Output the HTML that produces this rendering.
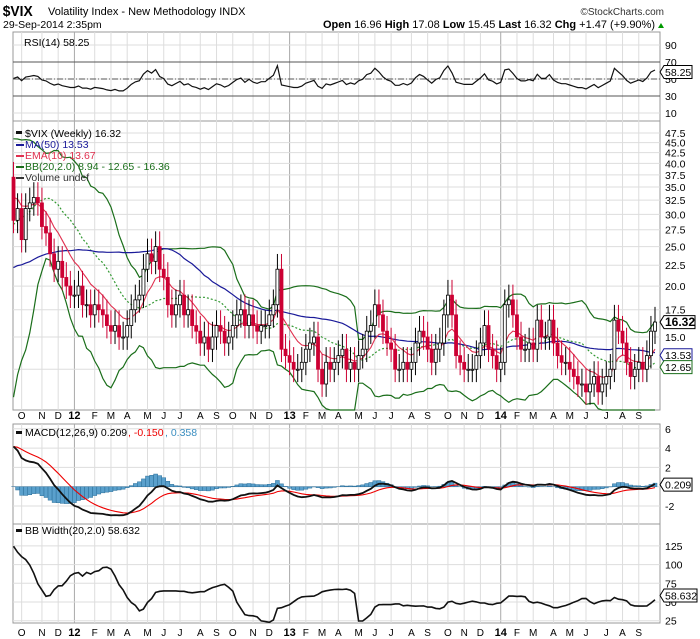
<!DOCTYPE html>
<html><head><meta charset="utf-8"><style>
html,body{margin:0;padding:0;background:#fff;}
svg{display:block;font-family:"Liberation Sans",sans-serif;}
</style></head><body>
<svg id="c" width="700" height="639" viewBox="0 0 700 639" xmlns="http://www.w3.org/2000/svg">
<text x="3" y="16" font-size="15" font-weight="bold" transform="scale(0.92,1)">$VIX</text>
<text x="48" y="15" font-size="11">Volatility Index - New Methodology INDX</text>
<text x="3" y="28" font-size="10.5">29-Sep-2014 2:35pm</text>
<text x="664" y="15" font-size="10" text-anchor="end" fill="#333">©StockCharts.com</text>
<text x="655" y="28" font-size="11" text-anchor="end"><tspan font-weight="bold">Open</tspan> 16.96 <tspan font-weight="bold">High</tspan> 17.08 <tspan font-weight="bold">Low</tspan> 15.45 <tspan font-weight="bold">Last</tspan> 16.32 <tspan font-weight="bold">Chg</tspan> +1.47 (+9.90%)</text>
<polygon points="658,28 664,28 661,23" fill="#090"/>
</svg>
<script>
// ---- data (weekly closes) ----
const preCloses=[21,18.3,20.6,20.5,22.7,18,17.6,17.5,16.5,17.8,17.1,15.5,18.5,17,20,15.7,15.6,21,19,20.1,24.3,20.6,17.4,17.9,15.3,15.5,14.6,18,16,17.4,17.5,17,18.5,22,19,17,16,20,20,25,32,36,43,36,33,38,37,41,30,37];
const closes=[29,31,26,31,32, 33,32,28,27,24,22,23, 21,20,19,19,20,18, 18,17,18,17.5,17,16,15.5,16,15, 15,16,17.5,18.5, 19,22,24,23,25, 22,21,18,17, 18,19,17,17.5,16, 15.5,14.5,15,14, 15,16,15.5,14.5, 15,16,17,17.5,16, 17,16,15.5,16, 16,17,18,22,14, 13.5,13,12.5,12.5, 13,14,14.5,15, 12.5,11.5,13,12.5, 13,13.5,14,12.5,13, 12.5,13.5,14,15.5, 16,18,17,15.5, 14.5,14,12.5,12.5,13, 12.5,13,14.5,15.5, 15,14,13,14,14.5, 17,19,17,13.5, 13,12.5,12.5,12.5, 13.5,14.5,16,14,13.5, 12.5,13,18,18.5, 17,15,14,14,14.5, 14,16.5,15,15,16.5, 14.5,13.5,13,13, 12.5,12,11.5,11.5, 11,11.5,12,11,11.5, 12,12.5,16.5,15.5,14.5, 13,12,12.5,13, 12.5,13.5,15.5,16.32];
const priceTicks=[47.5,45,42.5,40,37.5,35,32.5,30,27.5,25,22.5,20,17.5,15,12.5];
const rsiTicks=[90,70,50,30,10];
const macdTicks=[6,4,2,0,-2];
const bbwTicks=[125,100,75,50,25];
const monthLetters=['J','F','M','A','M','J','J','A','S','O','N','D'];

const svg=document.getElementById('c');
const NS='http://www.w3.org/2000/svg';
function el(t,a,p){const e=document.createElementNS(NS,t);for(const k in a)e.setAttribute(k,a[k]);(p||svg).appendChild(e);return e;}
const L=13,R=660;
const N=closes.length;
const xS=i=>655-(N-1-i)*4.06;
const pTop=121,pBot=410;
const yP=v=>133+(Math.log10(47.5)-Math.log10(v))*407.5;
const yR=v=>79-(v-50)*0.85;
const yM=v=>486.7-v*9.65;
const yB=v=>602-(v-50)*0.748;

// ---- indicators ----
const all=preCloses.concat(closes), P=preCloses.length;
function ema(arr,n){const k=2/(n+1);let r=[arr[0]];for(let i=1;i<arr.length;i++)r.push(arr[i]*k+r[i-1]*(1-k));return r;}
function sma(arr,n,i){let s=0,c=0;for(let j=Math.max(0,i-n+1);j<=i;j++){s+=arr[j];c++;}return s/c;}
const ma50=[],ema10v=ema(all,10),bbU=[],bbM=[],bbL=[],bbW=[];
for(let i=0;i<all.length;i++){
 ma50.push(sma(all,50,i));
 const m=sma(all,20,i);let s=0,c=0;for(let j=Math.max(0,i-19);j<=i;j++){s+=(all[j]-m)**2;c++;}
 const sd=Math.sqrt(s/c);bbM.push(m);bbU.push(m+2*sd);bbL.push(m-2*sd);bbW.push(400*sd/m);
}
const e12=ema(all,12),e26=ema(all,26),macd=e12.map((v,i)=>v-e26[i]),sig=ema(macd,9);
const rsi=[];{let ag=0,al=0;for(let i=1;i<all.length;i++){const d=all[i]-all[i-1];const g=Math.max(d,0),l=Math.max(-d,0);if(i<=14){ag+=g/14;al+=l/14;}else{ag=(ag*13+g)/14;al=(al*13+l)/14;}rsi.push(al===0?100:100-100/(1+ag/al));}rsi.unshift(50);}

// ---- frames & grids ----
const panels=[[32,121],[121,410],[424,524],[524,623]];
panels.forEach((p,k)=>{const r=el('rect',{x:L,y:p[0],width:R-L,height:p[1]-p[0],fill:'#fff',stroke:'#999','stroke-width':1});});
const endDate=new Date(2014,8,29);
const start=new Date(endDate.getTime()-(N-1)*7*864e5);
let prevM=start.getMonth();const monthIdx=[];
for(let i=0;i<N;i++){const d=new Date(start.getTime()+i*7*864e5+3600e3*12);if(d.getMonth()!==prevM){monthIdx.push([i,d.getMonth(),d.getFullYear()]);prevM=d.getMonth();}}
monthIdx.forEach(m=>{const x=xS(m[0]);const yr=m[1]===0;
 panels.forEach(p=>{const g=el('line',{x1:x,x2:x,y1:p[0],y2:p[1],stroke:yr?'#aaa':'#ddd','stroke-width':1});});
 [419,636].forEach(yy=>{const t=el('text',{x:x,y:yy,'font-size':yr?11:10,'text-anchor':'middle','font-weight':yr?'bold':'normal'});t.textContent=yr?String(m[2]).slice(2):monthLetters[m[1]];});
});
function hticks(ticks,yf,fmt,name){ticks.forEach(v=>{const y=yf(v);const g=el('line',{x1:L,x2:R,y1:y,y2:y,stroke:'#ddd'});const t=el('text',{x:665,y:y+4,'font-size':10.5});t.textContent=fmt(v);});}
hticks(priceTicks,yP,v=>v.toFixed(1),'price');
hticks(rsiTicks,yR,v=>v,'rsi');
hticks(macdTicks,yM,v=>v,'macd');
hticks(bbwTicks,yB,v=>v,'bbw');
[70,30].forEach(v=>{const l=el('line',{x1:L,x2:R,y1:yR(v),y2:yR(v),stroke:'#555'});});
{const l=el('line',{x1:L,x2:R,y1:yR(50),y2:yR(50),stroke:'#555','stroke-dasharray':'6,2,1,2'});}

function line(arr,yf,attrs,name,clipTop,clipBot){let d='';for(let i=0;i<N;i++){let y=yf(arr[i+P]);if(clipTop!==undefined){y=Math.max(clipTop,Math.min(clipBot,y));}d+=(i?'L':'M')+xS(i).toFixed(1)+','+y.toFixed(1);}const p=el('path',Object.assign({d:d,fill:'none'},attrs));return p;}

line(rsi,yR,{stroke:'#111','stroke-width':1.2},'rsi-line');
line(bbU,yP,{stroke:'#1a6e1a','stroke-width':1.2},'bb-upper',pTop,pBot);
line(bbL,yP,{stroke:'#1a6e1a','stroke-width':1.2},'bb-lower',pTop,pBot);
line(bbM,yP,{stroke:'#339933','stroke-width':1.2,'stroke-dasharray':'2,2'},'bb-middle',pTop,pBot);
line(ma50,yP,{stroke:'#1a1a99','stroke-width':1.2},'ma50-line',pTop,pBot);
line(ema10v,yP,{stroke:'#e0304f','stroke-width':1.1},'ema10-line',pTop,pBot);
for(let i=0;i<N;i++){
 const c=closes[i],o=i?closes[i-1]:all[P-1];
 const hi=Math.max(o,c)*1.09,lo=Math.min(o,c)*0.93;
 const x=xS(i),down=c<o;const col=down?'#cc0033':'#000';
 const w=el('line',{x1:x,x2:x,y1:Math.max(pTop,yP(hi)),y2:Math.min(pBot,yP(lo)),stroke:col,'stroke-width':1});
 
 const yt=Math.max(pTop,yP(Math.max(o,c))),yb=Math.min(pBot,yP(Math.min(o,c)));
 const b=el('rect',{x:x-1.5,y:yt,width:3,height:Math.max(1,yb-yt),fill:down?col:'#fff',stroke:col,'stroke-width':0.8});
 
}
for(let i=0;i<N;i++){const h=macd[i+P]-sig[i+P];const y0=yM(0),y1=yM(h);
 const r=el('rect',{x:xS(i)-2,y:Math.min(y0,y1),width:4,height:Math.abs(y1-y0),fill:'#5aa0cc',stroke:'#2a6e99','stroke-width':0.5});
 }
line(sig,yM,{stroke:'#e00','stroke-width':1.1},'macd-signal',424,524);
line(macd,yM,{stroke:'#111','stroke-width':1.8},'macd-line',424,524);
line(bbW,yB,{stroke:'#111','stroke-width':1.6},'bb-width-line',524,623);

function txt(x,y,s,fill,size,name){const t=el('text',{x:x,y:y,'font-size':size||10.5,fill:fill||'#000'});t.textContent=s;return t;}
txt(24,46,'RSI(14) 58.25','#000',10.5,'rsi-legend');
txt(25,137,'$VIX (Weekly) 16.32','#000',10.5,'price-legend');
[['MA(50) 13.53','#1a1a99'],['EMA(10) 13.67','#e0304f'],['BB(20,2.0) 8.94 - 12.65 - 16.36','#1a6e1a'],['Volume undef','#333']].forEach((a,k)=>{
 const y=148+k*11;const s=el('line',{x1:16,x2:24,y1:y-3,y2:y-3,stroke:a[1],'stroke-width':2});
 txt(25,y,a[0],a[1],10.5,'legend-entry');});
txt(25,436,'MACD(12,26,9) 0.209','#000',10.5,'macd-legend');
txt(128,436,', -0.150','#e00',10.5,'macd-signal-legend');
txt(165,436,', 0.358','#3a8ec0',10.5,'macd-hist-legend');
txt(25,534,'BB Width(20,2.0) 58.632','#000',10.5,'bbw-legend');
[[16,131],[16,431],[16,529]].forEach(p=>{const r=el('rect',{x:p[0],y:p[1],width:6,height:3,fill:'#111'});});

function tag(y,s,stroke,bold,name,w){const g=el('g',{});
 const r=664+w;
 el('polygon',{points:`660,${y} 664,${y-6.5} ${r},${y-6.5} ${r},${y+6.5} 664,${y+6.5}`,fill:'#fff',stroke:stroke,'stroke-width':1},g);
 const t=el('text',{x:665,y:y+4,'font-size':bold?12:10.5,'font-weight':bold?'bold':'normal'},g);t.textContent=s;}
tag(yP(16.32),'16.32','#000',true,'last-price-tag',31);
tag(yP(13.53),'13.53','#1a1a99',false,'ma50-tag',28);
tag(yP(12.65),'12.65','#1a6e1a',false,'bb-middle-tag',28);
tag(yR(58.25),'58.25','#000',false,'rsi-tag',28);
tag(yM(0.209),'0.209','#000',false,'macd-tag',28);
tag(yB(58.632),'58.632','#000',false,'bbw-tag',33);
</script>
</body></html>
